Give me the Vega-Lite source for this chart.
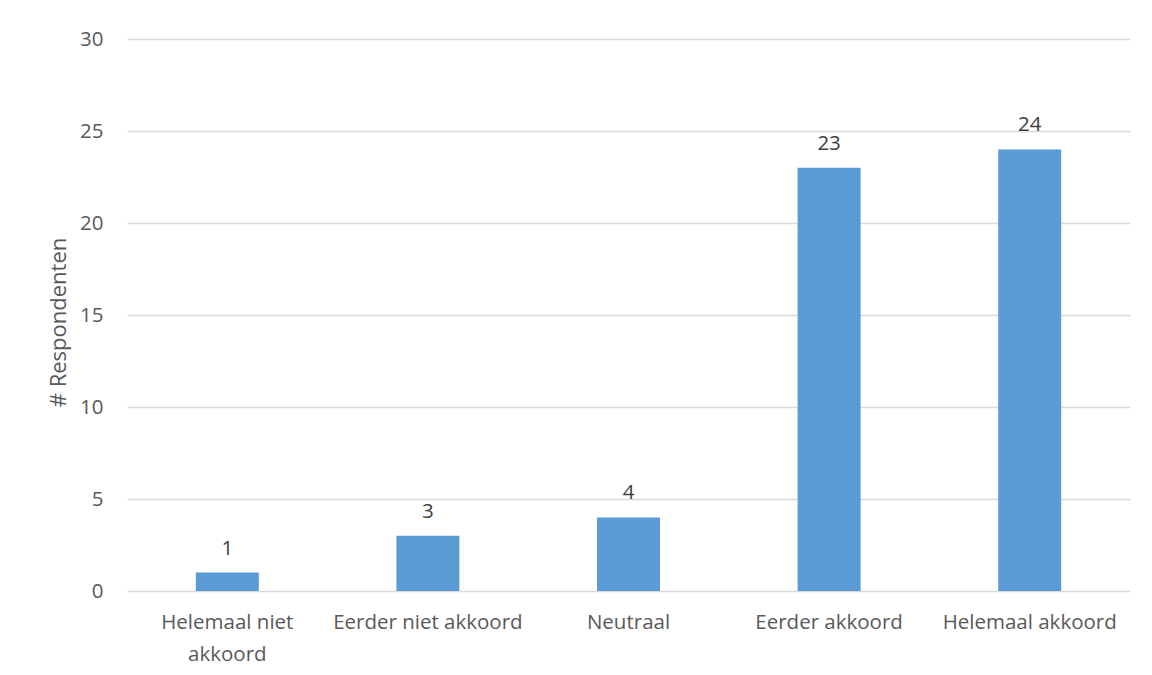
{
  "$schema": "https://vega.github.io/schema/vega-lite/v6.json",
  "width": 1003,
  "height": 552,
  "autosize": {"type": "none"},
  "padding": {"left": 127, "top": 39, "right": 22, "bottom": 84},
  "background": "white",
  "config": {"view": {"stroke": null}, "font": "Open Sans"},
  "data": {
    "values": [
      {"categorie": "Helemaal niet akkoord", "aantal": 1},
      {"categorie": "Eerder niet akkoord", "aantal": 3},
      {"categorie": "Neutraal", "aantal": 4},
      {"categorie": "Eerder akkoord", "aantal": 23},
      {"categorie": "Helemaal akkoord", "aantal": 24}
    ]
  },
  "encoding": {
    "x": {
      "field": "categorie",
      "type": "nominal",
      "sort": null,
      "scale": {"paddingInner": 0.686, "paddingOuter": 0.343},
      "axis": {
        "title": null,
        "labelAngle": 0,
        "labelFontSize": 20.5,
        "labelColor": "#595959",
        "labelPadding": 21,
        "labelLineHeight": 32,
        "labelLimit": 300,
        "labelExpr": "datum.label == 'Helemaal niet akkoord' ? ['Helemaal niet', 'akkoord'] : datum.label",
        "ticks": false,
        "domain": false,
        "grid": false
      }
    },
    "y": {
      "field": "aantal",
      "type": "quantitative",
      "scale": {"domain": [0, 30], "nice": false},
      "axis": {
        "title": "# Respondenten",
        "titleFontSize": 22,
        "titleFontWeight": "normal",
        "titleColor": "#595959",
        "titlePadding": 9,
        "titleY": 283,
        "values": [0, 5, 10, 15, 20, 25, 30],
        "labelFontSize": 20.5,
        "labelColor": "#595959",
        "labelPadding": 24,
        "ticks": false,
        "domain": false,
        "grid": true,
        "gridColor": "#D9D9D9",
        "gridWidth": 1.5
      }
    }
  },
  "layer": [
    {"mark": {"type": "bar", "color": "#5B9BD5"}},
    {
      "mark": {"type": "text", "baseline": "middle", "dy": -24, "fontSize": 20.5, "color": "#404040"},
      "encoding": {"text": {"field": "aantal", "type": "quantitative"}}
    }
  ]
}
